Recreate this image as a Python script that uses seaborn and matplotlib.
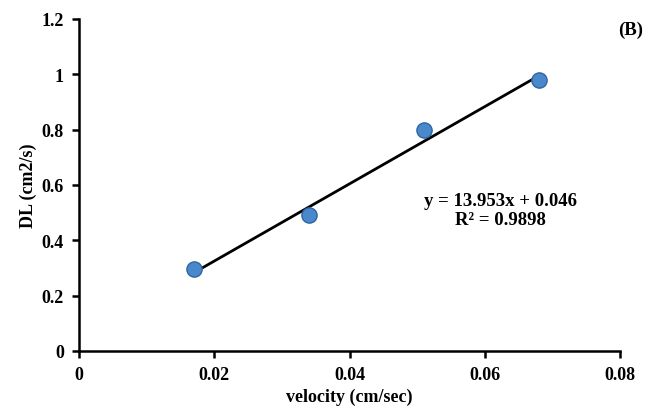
import numpy as np
import pandas as pd
import matplotlib
matplotlib.use("Agg")
import matplotlib.pyplot as plt
import seaborn as sns

# Dados
velocidade = [0.017, 0.034, 0.051, 0.068]
dl = [0.295, 0.49, 0.80, 0.98]
inclinacao = 13.953
intercepto = 0.046
r2 = 0.9898

x_ticks = [0, 0.02, 0.04, 0.06, 0.08]
y_ticks = [0, 0.2, 0.4, 0.6, 0.8, 1.0, 1.2]
x_labels = ['0', '0.02', '0.04', '0.06', '0.08']
y_labels = ['0', '0.2', '0.4', '0.6', '0.8', '1', '1.2']

sns.set_style("ticks")
plt.rcParams['font.family'] = ['Liberation Serif', 'DejaVu Serif']
plt.rcParams['font.weight'] = 'bold'
plt.rcParams['text.color'] = 'black'
plt.rcParams['axes.labelcolor'] = 'black'
plt.rcParams['xtick.color'] = 'black'
plt.rcParams['ytick.color'] = 'black'

df = pd.DataFrame({'v': velocidade, 'dl': dl})
linha = pd.DataFrame({'v': [velocidade[0], velocidade[-1]]})
linha['dl'] = inclinacao * linha['v'] + intercepto

fig = plt.figure(figsize=(6.48, 4.10), dpi=100)
ax = fig.add_axes([0.122, 0.1415, 0.835, 0.81])

# Linha de tendência
sns.lineplot(data=linha, x='v', y='dl', color='black', linewidth=2, ax=ax, zorder=2)

# Pontos
sns.scatterplot(data=df, x='v', y='dl', s=120, color='#4a88cc', edgecolor='#2f66a0',
                linewidth=1, ax=ax, zorder=3)

ax.set_xlim(0, 0.08)
ax.set_ylim(0, 1.2)
ax.set_xticks(x_ticks)
ax.set_xticklabels(x_labels, fontsize=13, fontweight='bold')
ax.set_yticks(y_ticks)
ax.set_yticklabels(y_labels, fontsize=13, fontweight='bold')
ax.set_xlabel('velocity (cm/sec)', fontsize=13, fontweight='bold', labelpad=3)
ax.set_ylabel('DL (cm2/s)', fontsize=13, fontweight='bold', labelpad=3)

for lado in ['top', 'right']:
    ax.spines[lado].set_visible(False)
for lado in ['left', 'bottom']:
    ax.spines[lado].set_linewidth(1.8)
    ax.spines[lado].set_color('black')
ax.tick_params(axis='both', direction='out', length=5, width=1.8, color='black', pad=6)

ax.text(0.0623, 0.51, f'y = {inclinacao}x + {intercepto}\nR² = {r2}', ha='center', va='center',
        fontsize=13.5, fontweight='bold', linespacing=1.15)
ax.text(0.0834, 1.164, '(B)', ha='right', va='center', fontsize=13.5, fontweight='bold', clip_on=False)

plt.savefig('out.png', dpi=100)
